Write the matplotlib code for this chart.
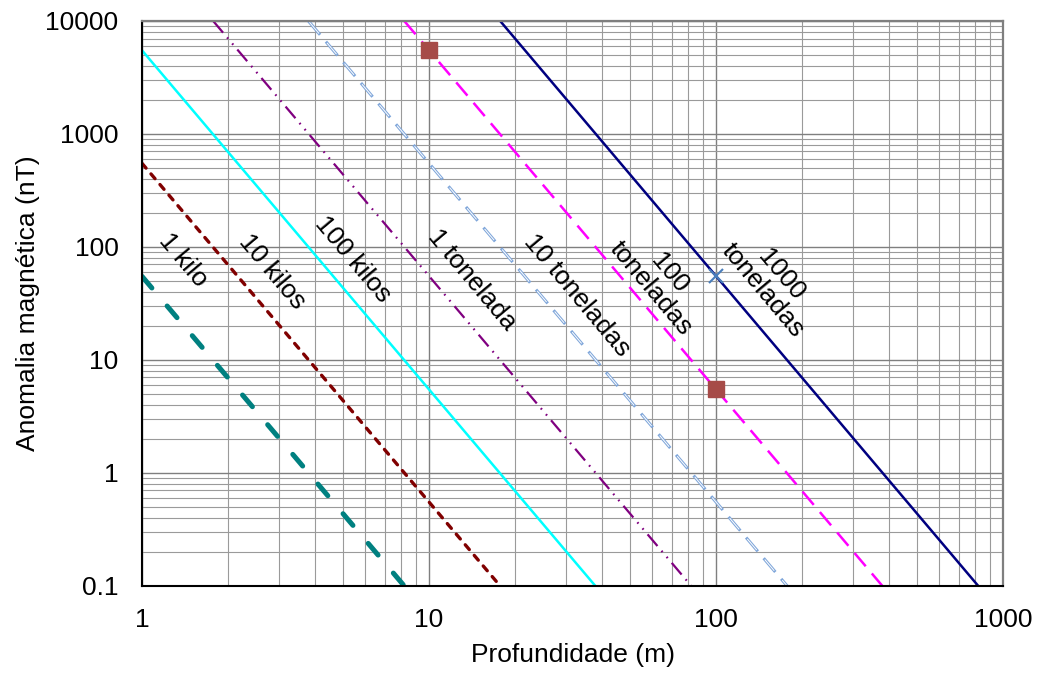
import numpy as np
import matplotlib.pyplot as plt
from matplotlib.ticker import FixedLocator, FixedFormatter, LogLocator, NullFormatter

plt.rcParams['font.family'] = ['Liberation Sans', 'DejaVu Sans']
plt.rcParams['lines.scale_dashes'] = False

# visible end points of each line (depth in m, anomaly in nT)
kilo1_x, kilo1_y = [1, 8.2], [55, 0.1]
kilo10_x, kilo10_y = [1, 17.7], [550, 0.1]
kilo100_x, kilo100_y = [1, 38], [5500, 0.1]
ton1_x, ton1_y = [1.77, 82], [10000, 0.1]
ton10_x, ton10_y = [3.8, 177], [10000, 0.1]
ton100_x, ton100_y = [8.2, 380], [10000, 0.1]
ton1000_x, ton1000_y = [17.7, 820], [10000, 0.1]

square_x, square_y = [10, 100], [5500, 5.5]
cross_x, cross_y = [100], [55]

x_ticks = [1, 10, 100, 1000]
x_labels = ["1", "10", "100", "1000"]
y_ticks = [0.1, 1, 10, 100, 1000, 10000]
y_labels = ["0.1", "1", "10", "100", "1000", "10000"]

line_labels = ["1 kilo", "10 kilos", "100 kilos", "1 tonelada", "10 toneladas",
               "100\ntoneladas", "1000\ntoneladas"]
label_x = [1.39, 2.84, 5.43, 14.1, 32.8, 64, 157]
label_y = [77, 60, 77, 51, 37.6, 50, 48]

fig = plt.figure(figsize=(10.38, 6.73), dpi=100)
ax = fig.add_axes([0.1368, 0.1293, 0.8295, 0.8395])
ax.set_xscale('log')
ax.set_yscale('log')
ax.set_xlim(1, 1000)
ax.set_ylim(0.1, 10000)

ax.plot(kilo1_x, kilo1_y, color='#008080', lw=3.6, linestyle=(0, (11, 17)),
        dash_capstyle='round')
ax.plot(kilo10_x, kilo10_y, color='#800000', lw=2.4, linestyle=(0, (4.5, 5.5)),
        dash_capstyle='round')
ax.plot(kilo100_x, kilo100_y, color='#00FFFF', lw=1.8)
ax.plot(ton1_x, ton1_y, color='#800080', lw=1.6,
        linestyle=(0, (11, 4.5, 1.2, 4.5, 1.2, 4.5)))
ax.plot(ton10_x, ton10_y, color='#7FA6DA', lw=2.2, linestyle=(0, (13, 6.5)))
ax.plot(ton10_x, ton10_y, color='white', lw=0.7, linestyle=(0, (0, 1.2, 10.6, 7.7)))
ax.plot(ton100_x, ton100_y, color='#FF00FF', lw=1.8, linestyle=(0, (12.5, 6.8)))
ax.plot(ton1000_x, ton1000_y, color='#000080', lw=1.8)

ax.plot(square_x, square_y, linestyle='none', marker='s', markersize=11,
        color='#A64B48', markeredgecolor='#A64B48')
ax.plot(cross_x, cross_y, linestyle='none', marker='x', markersize=10,
        markeredgewidth=1.5, color='#4A7EBB')

for txt, tx, ty in zip(line_labels, label_x, label_y):
    ax.text(tx, ty, txt, fontsize=19, rotation=-50, ha='center', va='center',
            rotation_mode='anchor', linespacing=1.0)

ax.xaxis.set_major_locator(FixedLocator(x_ticks))
ax.xaxis.set_major_formatter(FixedFormatter(x_labels))
ax.yaxis.set_major_locator(FixedLocator(y_ticks))
ax.yaxis.set_major_formatter(FixedFormatter(y_labels))
ax.xaxis.set_minor_locator(LogLocator(base=10, subs=np.arange(2, 10)))
ax.yaxis.set_minor_locator(LogLocator(base=10, subs=np.arange(2, 10)))
ax.xaxis.set_minor_formatter(NullFormatter())
ax.yaxis.set_minor_formatter(NullFormatter())

ax.grid(which='major', color='#7F7F7F', lw=1.0)
ax.grid(which='minor', color='#9A9A9A', lw=0.8)
ax.set_axisbelow(True)
ax.tick_params(which='both', length=0, labelsize=19)
ax.tick_params(axis='x', pad=16)
ax.tick_params(axis='y', pad=17)

for s in ['top', 'right']:
    ax.spines[s].set_color('#7F7F7F')
    ax.spines[s].set_linewidth(1.6)
for s in ['left', 'bottom']:
    ax.spines[s].set_color('black')
    ax.spines[s].set_linewidth(1.5)

ax.set_xlabel("Profundidade (m)", fontsize=19, labelpad=8)
ax.set_ylabel("Anomalia magnética (nT)", fontsize=19, labelpad=4)

plt.savefig("out.png", dpi=100)
